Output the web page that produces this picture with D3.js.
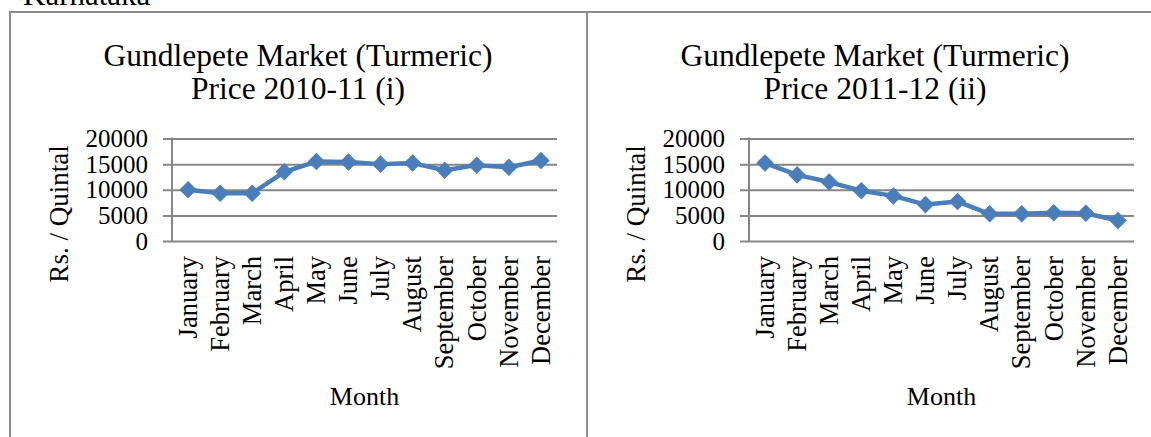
<!DOCTYPE html>
<html>
<head>
<meta charset="utf-8">
<script src="https://cdn.jsdelivr.net/npm/d3@7"></script>
<style>
  body { margin: 0; background: #fff; }
  svg { display: block; font-family: "Liberation Serif", "Times New Roman", serif; }
</style>
</head>
<body>
<div id="chart"></div>
<script>
// data (Rs. / Quintal)
var months = ["January", "February", "March", "April", "May", "June",
  "July", "August", "September", "October", "November", "December"];
var price1011 = [10000, 9300, 9300, 13500, 15500, 15400, 15000, 15200, 13800, 14800, 14400, 15700];
var price1112 = [15200, 12900, 11500, 9800, 8800, 7100, 7700, 5300, 5300, 5500, 5400, 4000];
var yTicks = [0, 5000, 10000, 15000, 20000];
var titles = [
  ["Gundlepete Market (Turmeric)", "Price 2010-11 (i)"],
  ["Gundlepete Market (Turmeric)", "Price 2011-12 (ii)"]
];

var W = 1151, H = 437;
var panelW = 577;
var serif = '"Liberation Serif", "Times New Roman", serif';
var blue = "#4a7ebb", grid = "#868686";

var svg = d3.select("#chart").append("svg")
  .attr("width", W)
  .attr("height", H);

// document text cut at the top
svg.append("text")
  .attr("x", 23)
  .attr("y", 5)
  .style("font-size", "31px")
  .text("Karnataka");

// table frame
svg.append("line").attr("x1", 9).attr("x2", W).attr("y1", 12).attr("y2", 12)
  .style("stroke", "#8c8c8c").style("stroke-width", 2);
svg.append("line").attr("x1", 10).attr("x2", 10).attr("y1", 11).attr("y2", H)
  .style("stroke", "#8c8c8c").style("stroke-width", 2);
svg.append("line").attr("x1", 587).attr("x2", 587).attr("y1", 11).attr("y2", H)
  .style("stroke", "#8c8c8c").style("stroke-width", 2);

function drawPanel(i, values) {
  var ox = i * panelW;
  var g = svg.append("g").attr("transform", "translate(" + ox + ",0)");

  var x = d3.scaleBand().domain(months).range([172, 557]).padding(0);
  var y = d3.scaleLinear().domain([0, 20000]).range([241, 138.5]);

  // title
  g.selectAll(".title")
    .data(titles[i]).enter()
    .append("text")
    .attr("class", "title")
    .attr("x", 298)
    .attr("y", function(d, k) { return 66 + k * 33; })
    .style("text-anchor", "middle")
    .style("font-size", "31.5px")
    .text(function(d) { return d; });

  // y axis with gridlines
  var yAxis = d3.axisLeft(y)
    .tickValues(yTicks)
    .tickSize(8)
    .tickPadding(16)
    .tickFormat(d3.format("d"));
  var ya = g.append("g")
    .attr("transform", "translate(172,0)")
    .call(yAxis)
    .attr("font-family", serif)
    .attr("font-size", 25);
  ya.select(".domain").remove();
  ya.selectAll(".tick line")
    .attr("x2", -9)
    .attr("x1", 557 - 172)
    .style("stroke", grid)
    .style("stroke-width", 2);
  ya.selectAll(".tick text")
    .style("fill", "#000");

  g.append("line")
    .attr("x1", 172).attr("x2", 172)
    .attr("y1", y(20000) - 1).attr("y2", y(0) + 1)
    .style("stroke", grid)
    .style("stroke-width", 2);

  // x axis labels
  var xAxis = d3.axisBottom(x).tickSize(0).tickPadding(0);
  var xa = g.append("g")
    .attr("transform", "translate(0,241)")
    .call(xAxis)
    .attr("font-family", serif)
    .attr("font-size", 26.5);
  xa.select(".domain").remove();
  xa.selectAll(".tick text")
    .attr("transform", "rotate(-90)")
    .attr("x", -15)
    .attr("y", 0)
    .attr("dy", "0.33em")
    .style("text-anchor", "end")
    .style("fill", "#000");

  // axis titles
  g.append("text")
    .attr("transform", "translate(68,214) rotate(-90)")
    .style("text-anchor", "middle")
    .style("font-size", "27px")
    .text("Rs. / Quintal");

  g.append("text")
    .attr("x", (172 + 557) / 2)
    .attr("y", 405)
    .style("text-anchor", "middle")
    .style("font-size", "26px")
    .text("Month");

  // series
  var pts = months.map(function(m, k) { return { m: m, v: values[k] }; });
  var line = d3.line()
    .x(function(d) { return x(d.m) + x.bandwidth() / 2; })
    .y(function(d) { return y(d.v); });

  g.append("path")
    .datum(pts)
    .attr("d", line)
    .style("fill", "none")
    .style("stroke", blue)
    .style("stroke-width", 4.5)
    .style("stroke-linejoin", "round");

  var diamond = d3.symbol().type(d3.symbolSquare).size(130);
  g.selectAll(".pt")
    .data(pts).enter()
    .append("path")
    .attr("class", "pt")
    .attr("d", diamond)
    .attr("transform", function(d) {
      return "translate(" + (x(d.m) + x.bandwidth() / 2) + "," + y(d.v) + ") rotate(45)";
    })
    .style("fill", blue)
    .style("stroke", blue)
    .style("stroke-width", 1);
}

drawPanel(0, price1011);
drawPanel(1, price1112);
</script>
</body>
</html>
